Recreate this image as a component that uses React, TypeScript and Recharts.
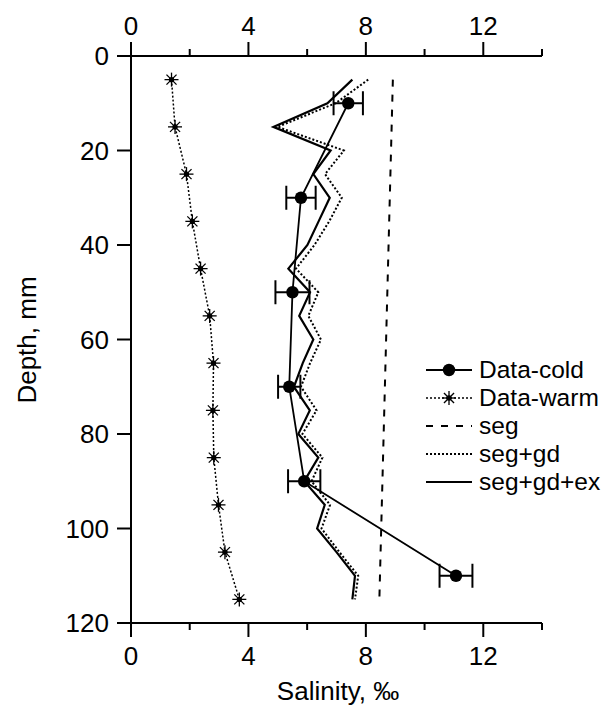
import { ScatterChart, Scatter, XAxis, YAxis, ErrorBar, Legend, Label } from "recharts";

// measured profiles
const coldDepth = [10, 30, 50, 70, 90, 110];
const coldSalinity = [7.4, 5.79, 5.5, 5.39, 5.9, 11.07];
const coldError = [0.5, 0.5, 0.58, 0.38, 0.55, 0.56];

const warmDepth = [5, 15, 25, 35, 45, 55, 65, 75, 85, 95, 105, 115];
const warmSalinity = [1.38, 1.5, 1.89, 2.09, 2.37, 2.68, 2.81, 2.79, 2.82, 2.98, 3.2, 3.69];

// model runs
const segDepth = [5, 115];
const segSalinity = [8.92, 8.46];

const modelDepth = [5, 10, 15, 20, 25, 30, 35, 40, 45, 50, 55, 60, 65, 70, 75, 80, 85, 90, 95, 100, 105, 110, 115];
const segGdSalinity = [8.08, 6.97, 4.99, 7.25, 6.61, 7.18, 6.75, 6.25, 5.62, 6.38, 6.04, 6.47, 6.1, 5.79, 6.32, 5.84, 6.52, 6.15, 6.78, 6.49, 7.1, 7.74, 7.63];
const segGdExSalinity = [7.54, 6.69, 4.85, 6.8, 6.21, 6.77, 6.39, 6.01, 5.36, 6.1, 5.73, 6.21, 5.85, 5.55, 6.09, 5.7, 6.38, 5.9, 6.6, 6.34, 7.0, 7.63, 7.54];

const xTicks = [0, 2, 4, 6, 8, 10, 12, 14];
const yTicks = [0, 20, 40, 60, 80, 100, 120];

const legendItems = [
  { name: "Data-cold", dash: "", width: 1.8, marker: "circle" },
  { name: "Data-warm", dash: "2 2", width: 1.5, marker: "star" },
  { name: "seg", dash: "7 8", width: 2, marker: "" },
  { name: "seg+gd", dash: "2 2", width: 2, marker: "" },
  { name: "seg+gd+ex", dash: "", width: 2, marker: "" },
];

const FONT = "'Liberation Sans', Arial, sans-serif";

const toPoints = (depth: number[], sal: number[], err?: number[]) =>
  depth.map((d, i) => ({ depth: d, salinity: sal[i], err: err ? err[i] : 0 }));

const coldData = toPoints(coldDepth, coldSalinity, coldError);
const warmData = toPoints(warmDepth, warmSalinity);
const segData = toPoints(segDepth, segSalinity);
const segGdData = toPoints(modelDepth, segGdSalinity);
const segGdExData = toPoints(modelDepth, segGdExSalinity);

const Dot = ({ cx, cy }: any) => <circle cx={cx} cy={cy} r={6.2} fill="#000" />;

const Star = ({ cx, cy }: any) => {
  const r = 7;
  const d = r * 0.72;
  return (
    <g stroke="#000" strokeWidth={1.3}>
      <line x1={cx} y1={cy - r} x2={cx} y2={cy + r} />
      <line x1={cx - r} y1={cy} x2={cx + r} y2={cy} />
      <line x1={cx - d} y1={cy - d} x2={cx + d} y2={cy + d} />
      <line x1={cx - d} y1={cy + d} x2={cx + d} y2={cy - d} />
      <circle cx={cx} cy={cy} r={2} fill="#000" />
    </g>
  );
};

const NoMark = () => <g />;

const XTick = ({ x, y, payload, top }: any) => {
  const v = payload.value;
  const major = v % 4 === 0 && v < 14;
  const dir = top ? -1 : 1;
  const len = major ? 14 : 7;
  return (
    <g>
      <line x1={x} x2={x} y1={y} y2={y + dir * len} stroke="#000" strokeWidth={2} />
      {major && (
        <text x={x} y={top ? y - 21 : y + 42} textAnchor="middle" fontSize={26} fontFamily={FONT} fill="#000">
          {v}
        </text>
      )}
    </g>
  );
};

const YTick = ({ x, y, payload }: any) => (
  <g>
    <line x1={x} x2={x - 14} y1={y} y2={y} stroke="#000" strokeWidth={2} />
    <text x={x - 22} y={y} dy="0.36em" textAnchor="end" fontSize={26} fontFamily={FONT} fill="#000">
      {payload.value}
    </text>
  </g>
);

const LegendBox = () => (
  <div style={{ fontFamily: FONT, fontSize: 24.5, lineHeight: "28px" }}>
    {legendItems.map((it) => (
      <div key={it.name} style={{ display: "flex", alignItems: "center", height: 28 }}>
        <svg width={55} height={28} style={{ display: "block" }}>
          <line x1={2} x2={48} y1={14} y2={14} stroke="#000" strokeWidth={it.width} strokeDasharray={it.dash || undefined} />
          {it.marker === "circle" && <Dot cx={25} cy={14} />}
          {it.marker === "star" && <Star cx={25} cy={14} />}
        </svg>
        <span style={{ color: "#000" }}>{it.name}</span>
      </div>
    ))}
  </div>
);

export default function App() {
  return (
    <div style={{ position: "absolute", left: 0, top: 0, width: 605, height: 715, background: "#fff" }}>
      <ScatterChart width={605} height={715} margin={{ top: 0, right: 63, bottom: 0, left: 0 }}>
        <XAxis
          xAxisId="top"
          orientation="top"
          type="number"
          dataKey="salinity"
          domain={[0, 14]}
          ticks={xTicks}
          interval={0}
          height={56}
          tickSize={0}
          tickMargin={0}
          stroke="#000"
          strokeWidth={2}
          tick={(p: any) => <XTick {...p} top />}
        />
        <XAxis
          type="number"
          dataKey="salinity"
          domain={[0, 14]}
          ticks={xTicks}
          interval={0}
          height={92}
          tickSize={0}
          tickMargin={0}
          stroke="#000"
          strokeWidth={2}
          tick={(p: any) => <XTick {...p} />}
        >
          <Label
            content={() => (
              <text x={338} y={700} textAnchor="middle" fontSize={26} fontFamily={FONT} fill="#000">
                Salinity, ‰
              </text>
            )}
          />
        </XAxis>
        <YAxis
          type="number"
          dataKey="depth"
          domain={[0, 120]}
          reversed
          ticks={yTicks}
          interval={0}
          width={131}
          tickSize={0}
          tickMargin={0}
          stroke="#000"
          strokeWidth={2}
          tick={YTick}
        >
          <Label
            content={() => (
              <text
                x={27}
                y={340}
                transform="rotate(-90 27 340)"
                dy="0.36em"
                textAnchor="middle"
                fontSize={26}
                fontFamily={FONT}
                fill="#000"
              >
                Depth, mm
              </text>
            )}
          />
        </YAxis>
        <Legend
          layout="vertical"
          align="center"
          verticalAlign="middle"
          content={LegendBox}
          wrapperStyle={{ position: "absolute", left: 424, top: 356, width: 181 }}
        />
        <Scatter
          name="seg"
          xAxisId="top"
          data={segData}
          shape={NoMark}
          line={{ stroke: "#000", strokeWidth: 2, strokeDasharray: "7 8" }}
          isAnimationActive={false}
        />
        <Scatter
          name="seg+gd"
          data={segGdData}
          shape={NoMark}
          line={{ stroke: "#000", strokeWidth: 2, strokeDasharray: "2 2" }}
          isAnimationActive={false}
        />
        <Scatter
          name="seg+gd+ex"
          data={segGdExData}
          shape={NoMark}
          line={{ stroke: "#000", strokeWidth: 2.2 }}
          isAnimationActive={false}
        />
        <Scatter
          name="Data-warm"
          data={warmData}
          shape={Star}
          line={{ stroke: "#000", strokeWidth: 1.5, strokeDasharray: "2 2" }}
          isAnimationActive={false}
        />
        <Scatter
          name="Data-cold"
          data={coldData}
          shape={Dot}
          line={{ stroke: "#000", strokeWidth: 1.8 }}
          isAnimationActive={false}
        >
          <ErrorBar dataKey="err" direction="x" width={12} stroke="#000" strokeWidth={2} />
        </Scatter>
      </ScatterChart>
    </div>
  );
}
